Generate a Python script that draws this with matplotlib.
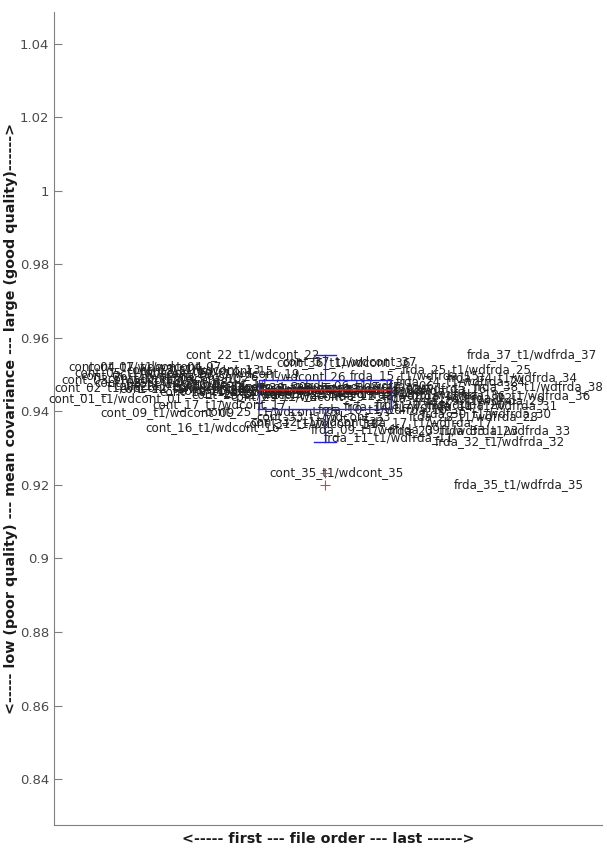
import matplotlib.pyplot as plt
from matplotlib import ticker
import numpy as np

# file order: controls first, then patients
cont_ids = list(range(1, 38))
frda_ids = [2, 4, 6, 9, 10, 11, 12, 13, 14, 15, 16, 17, 18, 20, 22, 23, 24, 25,
            28, 29, 30, 31, 32, 33, 34, 35, 36, 37, 38]

cont_cov = [0.9434, 0.9464, 0.9486, 0.9521, 0.9505, 0.9499, 0.9521, 0.9478,
            0.9396, 0.9490, 0.9470, 0.9462, 0.9515, 0.9475, 0.9510, 0.9355,
            0.9420, 0.9453, 0.9502, 0.9468, 0.9457, 0.9554, 0.9445, 0.9459,
            0.9399, 0.9494, 0.9458, 0.9462, 0.9440, 0.9466, 0.9366, 0.9372,
            0.9385, 0.9448, 0.9233, 0.9532, 0.9537]
frda_cov = [0.9460, 0.9460, 0.9471, 0.9350, 0.9405, 0.9328, 0.9443, 0.9456,
            0.9412, 0.9497, 0.9461, 0.9369, 0.9447, 0.9418, 0.9438, 0.9347,
            0.9481, 0.9513, 0.9385, 0.9430, 0.9395, 0.9416, 0.9317, 0.9347,
            0.9491, 0.9200, 0.9442, 0.9554, 0.9467]

names = ['cont_%02d_t1/wdcont_%02d' % (i, i) for i in cont_ids] + \
        ['frda_%02d_t1/wdfrda_%02d' % (i, i) for i in frda_ids]
cov = np.array(cont_cov + frda_cov)
n = len(cov)
xpos = 2 * np.arange(n) / (n - 1)

fig = plt.figure(figsize=(6.07, 8.56), dpi=100)
ax = fig.add_axes([0.089, 0.0362, 0.903, 0.950])

blue = '#2424e0'
bp = ax.boxplot(cov, positions=[0.99], widths=0.62, whis=1.5, manage_ticks=False,
                boxprops=dict(color=blue, lw=1.0),
                whiskerprops=dict(color=blue, lw=0.9, ls='-'),
                capprops=dict(color=blue, lw=1.0),
                medianprops=dict(color='#e02020', lw=1.2),
                flierprops=dict(marker='+', markeredgecolor='#ff3030', markersize=7,
                                markeredgewidth=0.8))
for c in bp['caps']:
    c.set_xdata([0.99 - 0.052, 0.99 + 0.052])
for key in bp:
    for art in bp[key]:
        art.set_zorder(5)

for x, y, s in zip(xpos, cov, names):
    ax.text(x, y, s, ha='center', va='center', fontsize=8.6, color='#222222', zorder=3)

ax.set_xlim(-0.29, 2.30)
ax.set_ylim(0.8275, 1.0487)
ax.set_yticks(np.arange(0.84, 1.041, 0.02))
ax.yaxis.set_major_formatter(ticker.FuncFormatter(lambda v, p: '%g' % round(v, 2)))
ax.set_xticks([])
ax.tick_params(axis='y', direction='in', length=6, color='#808080', labelsize=9.5,
               labelcolor='#4a4a4a')
for side in ['top', 'right']:
    ax.spines[side].set_visible(False)
for side in ['left', 'bottom']:
    ax.spines[side].set_color('#808080')

ax.set_xlabel('<----- first --- file order --- last ------>', fontsize=10.3,
              fontweight='bold', labelpad=5, color='#1a1a1a')
ax.set_ylabel('<----- low (poor quality) --- mean covariance --- large (good quality)------>',
              fontsize=10.3, fontweight='bold', labelpad=1, color='#1a1a1a')

plt.savefig('out.png', dpi=100)
